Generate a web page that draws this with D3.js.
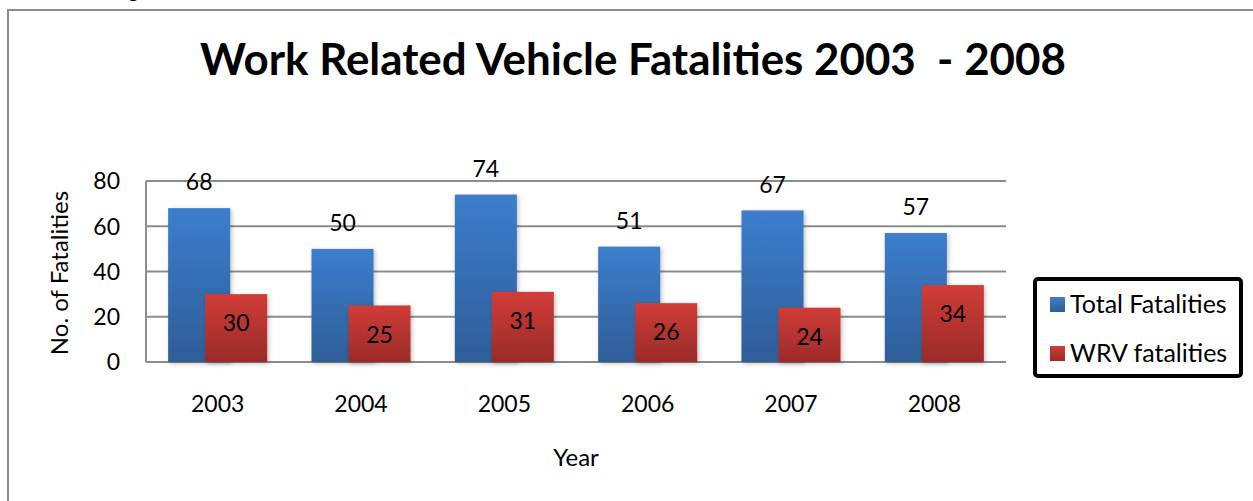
<!DOCTYPE html>
<html>
<head>
<meta charset="utf-8">
<script src="https://cdn.jsdelivr.net/npm/d3@7"></script>
<style>
  html, body { margin: 0; padding: 0; background: #fff; }
  svg { display: block; font-family: Lato, "Open Sans", sans-serif; }
</style>
</head>
<body>
<svg id="chart" width="1253" height="501"></svg>
<script>
const years = ["2003", "2004", "2005", "2006", "2007", "2008"];
const totalFatalities = [68, 50, 74, 51, 67, 57];
const wrvFatalities = [30, 25, 31, 26, 24, 34];
const yTicks = [0, 20, 40, 60, 80];
const seriesNames = ["Total Fatalities", "WRV fatalities"];
const titleText = "Work Related Vehicle Fatalities 2003  - 2008";

const svg = d3.select("#chart");
const plot = { left: 146, right: 1006, top: 181, bottom: 362 };
const numSize = 23, wordSize = 24;

const defs = svg.append("defs");
function grad(id, top, bottom) {
  const g = defs.append("linearGradient").attr("id", id)
    .attr("x1", 0).attr("y1", 0).attr("x2", 0).attr("y2", 1);
  g.append("stop").attr("offset", "0%").attr("stop-color", top);
  g.append("stop").attr("offset", "100%").attr("stop-color", bottom);
}
grad("gBlue", "#3C7ECD", "#2E5D98");
grad("gRed", "#D03C38", "#9A2B28");
const f = defs.append("filter").attr("id", "shadow")
  .attr("x", "-20%").attr("y", "-20%").attr("width", "150%").attr("height", "140%");
f.append("feDropShadow").attr("dx", 1.5).attr("dy", 1.5).attr("stdDeviation", 2)
  .attr("flood-color", "#000").attr("flood-opacity", 0.25);

// Outer frame (partially off-canvas)
svg.append("rect").attr("x", 8).attr("y", 10).attr("width", 1300).attr("height", 560)
  .attr("fill", "none").attr("stroke", "#8c8c8c").attr("stroke-width", 2);

// cut-off text from page above
svg.append("text").attr("x", 128).attr("y", -2).attr("font-size", 20).attr("fill", "#000").text("g");

// Title
const title = svg.append("text")
  .attr("x", 633).attr("y", 75)
  .attr("text-anchor", "middle")
  .attr("font-weight", "bold")
  .attr("font-size", 40)
  .attr("fill", "#000")
  .style("white-space", "pre")
  .text(titleText);
const tw = title.node().getComputedTextLength();
title.attr("font-size", 40 * 866 / tw);

const x = d3.scaleBand().domain(years).range([plot.left, plot.right]).padding(0);
const y = d3.scaleLinear().domain([0, 80]).range([plot.bottom, plot.top]);
const step = x.bandwidth();
const barW = step * 0.433;
const off = step * 0.129;

// Gridlines
svg.append("g").selectAll("line").data(yTicks).join("line")
  .attr("x1", plot.left).attr("x2", plot.right)
  .attr("y1", d => y(d)).attr("y2", d => y(d))
  .attr("stroke", "#8c8c8c").attr("stroke-width", 2);
// left axis line
svg.append("line").attr("x1", plot.left).attr("x2", plot.left)
  .attr("y1", y(80)).attr("y2", y(0)).attr("stroke", "#8c8c8c").attr("stroke-width", 2);

// Y tick labels
svg.append("g").selectAll("text").data(yTicks).join("text")
  .attr("x", 120).attr("y", d => y(d)).attr("dy", "0.36em")
  .attr("text-anchor", "end").attr("font-size", numSize).attr("fill", "#000")
  .text(d => d);

// X tick labels
svg.append("g").selectAll("text").data(years).join("text")
  .attr("x", d => x(d) + step / 2).attr("y", 404).attr("dy", "0.36em")
  .attr("text-anchor", "middle").attr("font-size", numSize).attr("fill", "#000")
  .text(d => d);

// Bars
const cx = d => x(d) + step / 2;
svg.append("g").selectAll("rect").data(years).join("rect")
  .attr("x", (d) => cx(d) - off - barW / 2)
  .attr("width", barW)
  .attr("y", (d, i) => y(totalFatalities[i]))
  .attr("height", (d, i) => y(0) - y(totalFatalities[i]))
  .attr("fill", "url(#gBlue)").attr("filter", "url(#shadow)");
svg.append("g").selectAll("rect").data(years).join("rect")
  .attr("x", (d) => cx(d) + off - barW / 2)
  .attr("width", barW)
  .attr("y", (d, i) => y(wrvFatalities[i]))
  .attr("height", (d, i) => y(0) - y(wrvFatalities[i]))
  .attr("fill", "url(#gRed)").attr("filter", "url(#shadow)");

// Data labels
svg.append("g").selectAll("text").data(years).join("text")
  .attr("x", d => cx(d) - off)
  .attr("y", (d, i) => y(totalFatalities[i]) - 26).attr("dy", "0.36em")
  .attr("text-anchor", "middle").attr("font-size", numSize).attr("fill", "#000")
  .text((d, i) => totalFatalities[i]);
svg.append("g").selectAll("text").data(years).join("text")
  .attr("x", d => cx(d) + off)
  .attr("y", (d, i) => y(wrvFatalities[i]) + 29).attr("dy", "0.36em")
  .attr("text-anchor", "middle").attr("font-size", numSize).attr("fill", "#000")
  .text((d, i) => wrvFatalities[i]);

// Axis titles
svg.append("text").attr("transform", "translate(59,273) rotate(-90)")
  .attr("text-anchor", "middle").attr("dy", "0.36em").attr("font-size", wordSize).attr("fill", "#000")
  .text("No. of Fatalities");
svg.append("text").attr("x", (plot.left + plot.right) / 2).attr("y", 457).attr("dy", "0.36em")
  .attr("text-anchor", "middle").attr("font-size", wordSize).attr("fill", "#000")
  .text("Year");

// Legend
svg.append("rect").attr("x", 1035).attr("y", 279).attr("width", 206).attr("height", 97)
  .attr("rx", 3).attr("fill", "#fff").attr("stroke", "#000").attr("stroke-width", 4);
const lg = svg.append("g").selectAll("g").data(seriesNames).join("g")
  .attr("transform", (d, i) => `translate(1050,${304 + i * 49})`);
lg.append("rect").attr("x", 0).attr("y", -7).attr("width", 15).attr("height", 15)
  .attr("fill", (d, i) => i === 0 ? "url(#gBlue)" : "url(#gRed)");
lg.append("text").attr("x", 20).attr("dy", "0.36em").attr("font-size", 25).attr("fill", "#000")
  .text(d => d);
</script>
</body>
</html>
